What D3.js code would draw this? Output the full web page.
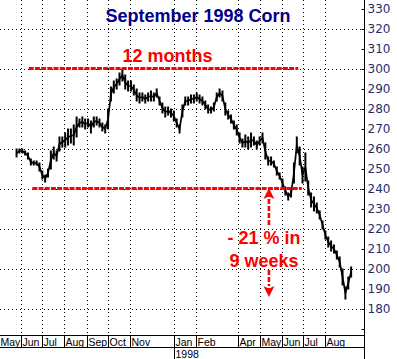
<!DOCTYPE html>
<html><head><meta charset="utf-8">
<script src="https://cdn.jsdelivr.net/npm/d3@7"></script>
<style>body{margin:0;background:#fff}</style>
</head><body>
<svg id="c" width="397" height="359"></svg>
<script>
// ---- data ----
const title = "September 1998 Corn";
const firstDate = "1997-05-26";     // first sampled bar
const stepDays = 4;                 // spacing of sampled bars (calendar days)
const highs = [260,260,260,259,258,255,254,254,253,249,247,250,259,261,259,266,266,268,270,270,
  272,276,275,276,275,275,274,276,276,275,273,272,280,291,294,295,298,300,297,294,
  294,292,290,288,288,287,288,289,288,290,286,283,281,281,280,279,275,272,282,286,
  286,287,287,288,287,286,284,282,281,283,288,290,289,283,279,277,274,272,268,265,
  267,266,268,266,264,266,268,263,256,256,254,251,248,245,241,238,240,253,266,261,
  251,258,244,238,236,233,229,224,219,216,214,212,209,206,200,191,196,201];
const lows = [256,258,258,257,255,252,252,252,249,245,243.5,246,250,255,254,259,261,261,262,263,
  262,266,271,271,270,271,268,271,272,271,269,268,270,284,288,290,292,294,290,289,
  289,287,284,283,284,283,284,284,284,286,282,278,276,277,276,274,271,268,276,282,
  282,283,283,284,283,282,280,278,278,279,284,286,284,277,275,273,270,267,263,261,
  261,260,261,262,260,262,263,255,252,252,251,247,245,241,237,234.5,236,243,258,252,
  243,244,237,231,229,228,225,220,215,211,209,208,205,201,192,185,190,196];
const yLabelValues = [180,190,200,210,220,230,240,250,260,270,280,290,300,310,320,330];
const yTickValues = [170,180,190,200,210,220,230,240,250,260,270,280,290,300,310,320,330];
const yGridValues = [180,200,220,240,260,280,300,320];
const monthDates = ["1997-05-01","1997-06-01","1997-07-01","1997-08-01","1997-09-01","1997-10-01","1997-11-01",
  "1998-01-01","1998-02-01","1998-04-01","1998-05-01","1998-06-01","1998-07-01","1998-08-01"];
const monthNames = ["May","Jun","Jul","Aug","Sep","Oct","Nov","Jan","Feb","Apr","May","Jun","Jul","Aug"];
const yearDates = ["1998-01-01"];
const yearNames = ["1998"];
const highLevel = 300, lowLevel = 240;
const highLineSpan = ["1997-06-12","1998-06-24"];
const lowLineSpan = ["1997-06-17","1998-06-29"];
const highLabel = "12 months";
const dropLabel = ["- 21 % in", "9 weeks"];
const arrowDate = "1998-05-14";
const arrowUp = [222, 240.5];     // from, to (price units)
const arrowDown = [199.5, 186];

// ---- setup ----
const W = 397, H = 359;
const axisX = 364, bandTop = 335, bandBot = 347;
const parse = d3.timeParse("%Y-%m-%d");
const svg = d3.select("#c");
const x = d3.scaleTime().domain([parse("1997-05-01"), parse("1998-09-24")]).range([-1.3, 364]);
const y = d3.scaleLinear().domain([180, 300]).range([309, 69]);

// grid
const grid = svg.append("g").attr("stroke", "#000").attr("stroke-width", 1).attr("stroke-dasharray", "1,3");
grid.selectAll(".hg").data(yGridValues).join("line")
  .attr("x1", 0).attr("x2", axisX).attr("y1", d => Math.round(y(d)) + 0.5).attr("y2", d => Math.round(y(d)) + 0.5);
grid.selectAll(".vg").data(monthDates.slice(1)).join("line")
  .attr("x1", d => Math.round(x(parse(d))) + 0.5).attr("x2", d => Math.round(x(parse(d))) + 0.5)
  .attr("y1", 0).attr("y2", bandTop);

// price bars
const start = parse(firstDate);
const dates = highs.map((_, i) => d3.timeDay.offset(start, i * stepDays));
const bars = svg.append("g").attr("stroke", "#000");
bars.selectAll("line").data(highs).join("line")
  .attr("x1", (d, i) => x(dates[i])).attr("x2", (d, i) => x(dates[i]))
  .attr("y1", d => y(d) - 0.5).attr("y2", (d, i) => y(lows[i]) + 0.5)
  .attr("stroke-width", 2);
const mid = d3.line().x((d, i) => x(dates[i])).y((d, i) => y((highs[i] + lows[i]) / 2));
svg.append("path").attr("d", mid(highs)).attr("fill", "none").attr("stroke", "#000").attr("stroke-width", 1.7);

// red level lines
const red = "#ff0000";
function level(val, span) {
  svg.append("line").attr("x1", x(parse(span[0]))).attr("x2", x(parse(span[1])))
    .attr("y1", y(val) - 0.5).attr("y2", y(val) - 0.5)
    .attr("stroke", red).attr("stroke-width", 2.8).attr("stroke-dasharray", "5,1.2");
}
level(highLevel, highLineSpan);
level(lowLevel, lowLineSpan);

// arrows
const ax = x(parse(arrowDate));
function arrow(from, to) {
  const y0 = y(from), y1 = y(to);
  const dir = Math.sign(y1 - y0);
  const headLen = 11, hw = 5.5;
  svg.append("line").attr("x1", ax).attr("x2", ax).attr("y1", y0).attr("y2", y1 - dir * headLen)
    .attr("stroke", red).attr("stroke-width", 2.6).attr("stroke-dasharray", "5,2");
  svg.append("path")
    .attr("d", `M${ax},${y1} L${ax - hw},${y1 - dir * headLen} L${ax - 1.3},${y1 - dir * (headLen - 2)} L${ax + 1.3},${y1 - dir * (headLen - 2)} L${ax + hw},${y1 - dir * headLen} Z`)
    .attr("fill", red);
}
arrow(arrowUp[0], arrowUp[1]);
arrow(arrowDown[0], arrowDown[1]);

// texts
const bold = "'Liberation Sans', Arial, sans-serif";
svg.append("text").attr("x", 198).attr("y", 22).attr("text-anchor", "middle")
  .attr("font-family", bold).attr("font-weight", "bold").attr("font-size", 18)
  .attr("fill", "#00008b").text(title);
svg.append("text").attr("x", 167.5).attr("y", 62).attr("text-anchor", "middle")
  .attr("font-family", bold).attr("font-weight", "bold").attr("font-size", 18)
  .attr("fill", red).text(highLabel);
svg.selectAll(".dl").data(dropLabel).join("text")
  .attr("x", 264).attr("y", (d, i) => 244 + i * 23).attr("text-anchor", "middle")
  .attr("font-family", bold).attr("font-weight", "bold").attr("font-size", 18)
  .attr("fill", red).text(d => d);

// right axis
svg.append("line").attr("x1", axisX + 0.5).attr("x2", axisX + 0.5).attr("y1", 0).attr("y2", H).attr("stroke", "#000");
const tickAxis = d3.axisRight(y).tickValues(yTickValues).tickSizeInner(-3).tickSizeOuter(0).tickFormat("");
const gT = svg.append("g").attr("transform", `translate(${axisX + 0.5},0)`).call(tickAxis);
gT.select(".domain").remove();
const labAxis = d3.axisRight(y).tickValues(yLabelValues).tickSize(0).tickPadding(3).tickFormat(d3.format("d"));
const gL = svg.append("g").attr("transform", `translate(${axisX + 0.5},0)`).call(labAxis);
gL.select(".domain").remove();
gL.selectAll("text").attr("font-family", "'DejaVu Sans', sans-serif").attr("font-size", 12).attr("fill", "#1f2f6b");

// bottom month band
const band = svg.append("g");
band.append("line").attr("x1", 0).attr("x2", axisX).attr("y1", bandTop + 0.5).attr("y2", bandTop + 0.5).attr("stroke", "#000");
band.append("line").attr("x1", 0).attr("x2", axisX).attr("y1", bandBot + 0.5).attr("y2", bandBot + 0.5).attr("stroke", "#000");
band.selectAll(".sep").data(monthDates.slice(1)).join("line")
  .attr("x1", d => Math.round(x(parse(d))) + 0.5).attr("x2", d => Math.round(x(parse(d))) + 0.5)
  .attr("y1", bandTop).attr("y2", bandBot).attr("stroke", "#000");
band.selectAll(".ml").data(monthNames).join("text")
  .attr("x", (d, i) => Math.max(0.5, Math.round(x(parse(monthDates[i]))) + 1.5)).attr("y", 345.5)
  .attr("font-family", "'Liberation Sans', Arial, sans-serif").attr("font-size", 10.5).attr("fill", "#000")
  .text(d => d);
band.selectAll(".ysep").data(yearDates).join("line")
  .attr("x1", d => Math.round(x(parse(d))) + 0.5).attr("x2", d => Math.round(x(parse(d))) + 0.5)
  .attr("y1", bandBot).attr("y2", H).attr("stroke", "#000");
band.selectAll(".yl").data(yearNames).join("text")
  .attr("x", (d, i) => Math.round(x(parse(yearDates[i]))) + 1.5).attr("y", 357.5)
  .attr("font-family", "'Liberation Sans', Arial, sans-serif").attr("font-size", 10.5).attr("fill", "#000")
  .text(d => d);
</script>
</body></html>
